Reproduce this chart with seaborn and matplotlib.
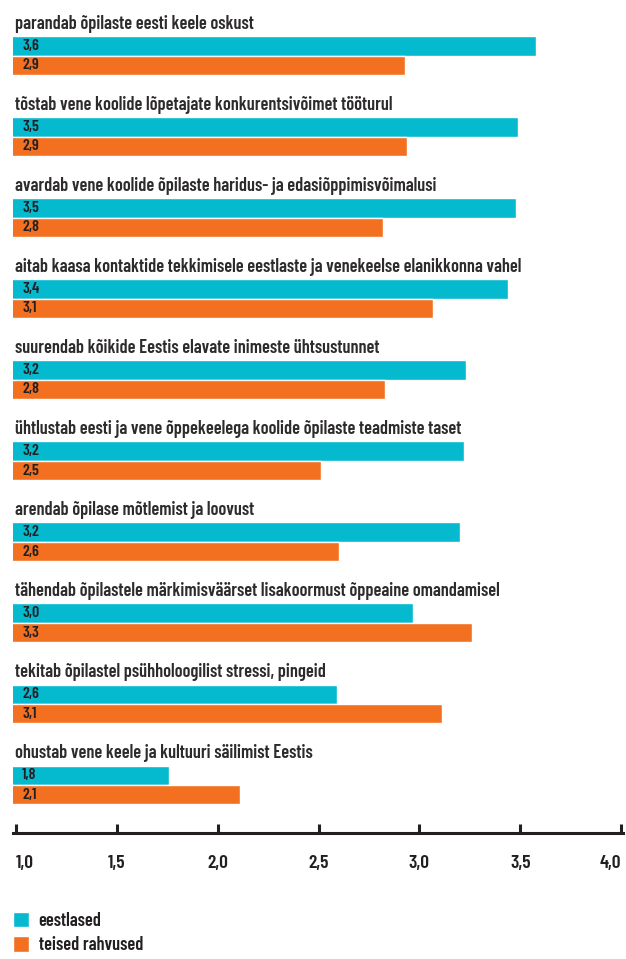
import matplotlib
matplotlib.use("Agg")
import matplotlib.pyplot as plt
import seaborn as sns
import pandas as pd
from matplotlib.ticker import FuncFormatter

# Survey statements (mean agreement on a 1-4 scale)
statements = [
    "parandab õpilaste eesti keele oskust",
    "tõstab vene koolide lõpetajate konkurentsivõimet tööturul",
    "avardab vene koolide õpilaste haridus- ja edasiõppimisvõimalusi",
    "aitab kaasa kontaktide tekkimisele eestlaste ja venekeelse elanikkonna vahel",
    "suurendab kõikide Eestis elavate inimeste ühtsustunnet",
    "ühtlustab eesti ja vene õppekeelega koolide õpilaste teadmiste taset",
    "arendab õpilase mõtlemist ja loovust",
    "tähendab õpilastele märkimisväärset lisakoormust õppeaine omandamisel",
    "tekitab õpilastel psühholoogilist stressi, pingeid",
    "ohustab vene keele ja kultuuri säilimist Eestis",
]
groups = ["eestlased", "teised rahvused"]
eestlased = [3.58, 3.49, 3.48, 3.44, 3.23, 3.22, 3.20, 2.97, 2.59, 1.76]
teised = [2.93, 2.94, 2.82, 3.07, 2.83, 2.51, 2.60, 3.26, 3.11, 2.11]
x_ticks = [1.0, 1.5, 2.0, 2.5, 3.0, 3.5, 4.0]

CYAN = "#05B9CF"
ORANGE = "#F37021"
INK = "#231F20"

df = pd.DataFrame({
    "statement": statements * 2,
    "group": [groups[0]] * len(statements) + [groups[1]] * len(statements),
    "value": eestlased + teised,
})

sns.set_theme(style="white")
plt.rcParams["font.family"] = ["Barlow Condensed", "DejaVu Sans"]
plt.rcParams["font.weight"] = "semibold"

W, H = 626, 959
fig = plt.figure(figsize=(W / 100, H / 100), dpi=100)
ax = fig.add_axes([13 / W, (H - 833) / H, (623 - 13) / W, 833 / H])

sns.barplot(
    data=df, y="statement", x="value", hue="group", orient="h",
    order=statements, hue_order=groups, palette=[CYAN, ORANGE],
    width=0.48, saturation=1, ax=ax, errorbar=None,
)

ax.set_xlim(0.985, 4.01)
ax.set_ylim(9.592, -0.685)
ax.set_xlabel("")
ax.set_ylabel("")
ax.set_yticks([])

for side in ("top", "right", "left"):
    ax.spines[side].set_visible(False)
ax.spines["bottom"].set_color(INK)
ax.spines["bottom"].set_linewidth(2.2)

ax.set_xticks(x_ticks)
ax.xaxis.set_major_formatter(FuncFormatter(lambda v, _: f"{v:.1f}".replace(".", ",")))
ax.tick_params(axis="x", direction="in", length=6.5, width=2.2, color=INK,
               pad=16, labelsize=14, labelcolor=INK, bottom=True)
tick_labels = ax.get_xticklabels()
for lbl in tick_labels:
    lbl.set_fontweight("semibold")
# keep the end labels inside the frame
tick_labels[0].set_horizontalalignment("left")
tick_labels[-1].set_horizontalalignment("right")

# Statement titles above each pair of bars
for i, s in enumerate(statements):
    ax.text(0.997, i - 0.333, s, ha="left", va="baseline", fontsize=13.2,
            color="#2E2B2C", fontweight="semibold")

# Value labels inside the start of each bar
for container in ax.containers:
    for patch, val in zip(container.patches, container.datavalues):
        yc = patch.get_y() + patch.get_height() / 2
        ax.text(1.03, yc, f"{val:.1f}".replace(".", ","), ha="left", va="center",
                fontsize=11.5, color=INK, fontweight="semibold")

sns.move_legend(
    ax, "upper left", bbox_to_anchor=(13 / W, 1 - 912 / H),
    bbox_transform=fig.transFigure, frameon=False, title=None,
    fontsize=13.2, handlelength=0.9, handleheight=0.9, handletextpad=0.5,
    labelspacing=0.35, borderpad=0, borderaxespad=0,
)
for t in ax.get_legend().get_texts():
    t.set_color(INK)
    t.set_fontweight("semibold")

fig.savefig("out.png", dpi=100)
